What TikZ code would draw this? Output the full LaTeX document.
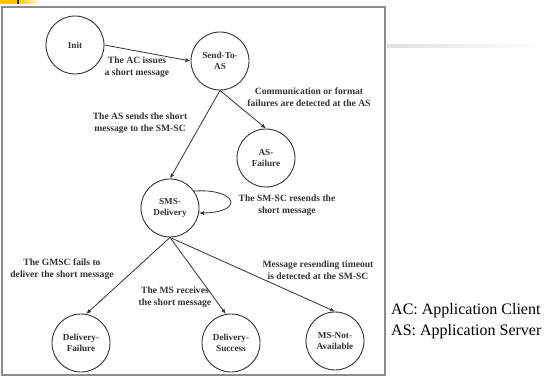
\documentclass[tikz,border=0pt]{standalone}
\usepackage{fontspec}
\setmainfont{Liberation Serif}
\usepackage{tikz}
\usetikzlibrary{arrows.meta, calc, positioning}
\usepackage{xcolor}
\definecolor{slideyellow}{rgb}{0.98, 0.78, 0.0}
\definecolor{framegray}{rgb}{0.55, 0.55, 0.55}
\definecolor{inkgray}{rgb}{0.2, 0.2, 0.2}
\newcommand{\lbl}{\fontsize{9.6}{12}\selectfont\bfseries}
\newcommand{\stt}{\fontsize{9.2}{11.5}\selectfont\bfseries}

\begin{document}
\begin{tikzpicture}[x=1pt, y=-1pt]
        \tikzstyle{state}=[circle, draw=inkgray, line width=0.9pt, minimum size=58pt, inner sep=0pt, align=center, text=inkgray, font=\stt]
        \tikzstyle{trans}=[draw=inkgray, line width=0.8pt, -{Latex[length=5pt, width=4pt]}]
        \tikzstyle{cond}=[align=center, text=inkgray, font=\lbl, inner sep=0pt]
        \useasboundingbox (0,0) rectangle (552,377);
        % slide decoration
        \fill[slideyellow] (0,0) rectangle (17,4);
        \fill[black!80] (17,0) rectangle (19,4);
        \shade[left color=slideyellow, right color=white] (19,0) rectangle (40,4);
        \shade[left color=black!12, right color=white] (387,45) rectangle (545,47.5);
        % frame round the diagram
        \draw[framegray, line width=1.4pt] (2,7) rectangle (385,375);
        % states
        \node (init)[state] at (75,45) {Init};
        \node (send)[state] at (220,61) {Send-To-\\AS};
        \node (asf)[state] at (266,158) {AS-\\Failure};
        \node (sms)[state] at (170,208) {SMS-\\Delivery};
        \node (df)[state] at (81,343) {Delivery-\\Failure};
        \node (ds)[state] at (231,343) {Delivery-\\Success};
        \node (msna)[state] at (335,341) {MS-Not-\\Available};
        % transitions
        \draw[trans] (init.east) -- (send.west);
        \draw[trans] (send.south) -- (sms.north);
        \draw[trans] (send.south) -- (asf.north);
        \draw[trans] (sms.35) .. controls (236,188) and (246,212) .. (sms.-10);
        \draw[trans] (sms.south) -- (df.80);
        \draw[trans] (sms.south) -- (ds.100);
        \draw[trans] (sms.south) -- (msna.north);
        % conditions
        \node (c1)[cond] at (137,67) {The AC issues\\a short message};
        \node (c2)[cond] at (140,123) {The AS sends the short\\message to the SM-SC};
        \node (c3)[cond] at (309,97) {Communication or format\\failures are detected at the AS};
        \node (c4)[cond] at (287,205) {The SM-SC resends the\\short message};
        \node (c5)[cond] at (62,269) {The GMSC fails to\\deliver the short message};
        \node (c6)[cond] at (175,297) {The MS receives\\the short message};
        \node (c7)[cond] at (318,270) {Message resending timeout\\is detected at the SM-SC};
        % legend
        \node (key)[align=left, font=\fontsize{16}{21}\selectfont, inner sep=0pt, anchor=west] at (391,321) {AC: Application Client\\AS: Application Server};
    \end{tikzpicture}
\end{document}
